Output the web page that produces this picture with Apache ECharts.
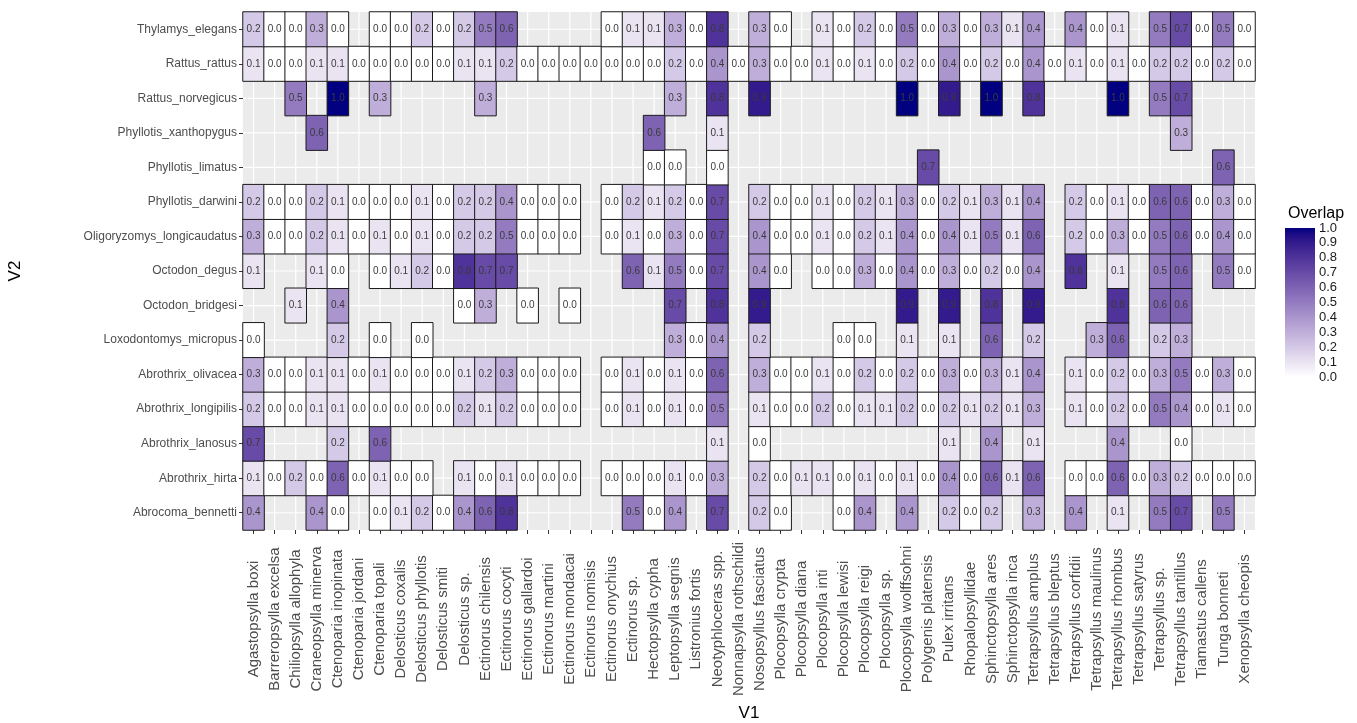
<!DOCTYPE html>
<html>
<head>
<meta charset="utf-8">
<script src="https://cdn.jsdelivr.net/npm/echarts@6/dist/echarts.min.js"></script>
<style>
  html, body { margin: 0; padding: 0; background: #ffffff; }
  #chart { width: 1357px; height: 723px; }
</style>
</head>
<body>
<div id="chart"></div>
<script>
const N = null;

// x categories (V1)
const xCats = [
  'Agastopsylla boxi', 'Barreropsylla excelsa', 'Chiliopsylla allophyla', 'Craneopsylla minerva',
  'Ctenoparia inopinata', 'Ctenoparia jordani', 'Ctenoparia topali', 'Delosticus coxalis',
  'Delosticus phyllotis', 'Delosticus smiti', 'Delosticus sp.', 'Ectinorus chilensis',
  'Ectinorus cocyti', 'Ectinorus gallardoi', 'Ectinorus martini', 'Ectinorus mondacai',
  'Ectinorus nomisis', 'Ectinorus onychius', 'Ectinorus sp.', 'Hectopsylla cypha',
  'Leptopsylla segnis', 'Listronius fortis', 'Neotyphloceras spp.', 'Nonnapsylla rothschildi',
  'Nosopsyllus fasciatus', 'Plocopsylla crypta', 'Plocopsylla diana', 'Plocopsylla inti',
  'Plocopsylla lewisi', 'Plocopsylla reigi', 'Plocopsylla sp.', 'Plocopsylla wolffsohni',
  'Polygenis platensis', 'Pulex irritans', 'Rhopalopsyllidae', 'Sphinctopsylla ares',
  'Sphinctopsylla inca', 'Tetrapsyllus amplus', 'Tetrapsyllus bleptus', 'Tetrapsyllus corfidii',
  'Tetrapsyllus maulinus', 'Tetrapsyllus rhombus', 'Tetrapsyllus satyrus', 'Tetrapsyllus sp.',
  'Tetrapsyllus tantillus', 'Tiamastus callens', 'Tunga bonneti', 'Xenopsylla cheopis'
];

// y categories (V2), bottom to top
const yCats = [
  'Abrocoma_bennetti', 'Abrothrix_hirta', 'Abrothrix_lanosus', 'Abrothrix_longipilis',
  'Abrothrix_olivacea', 'Loxodontomys_micropus', 'Octodon_bridgesi', 'Octodon_degus',
  'Oligoryzomys_longicaudatus', 'Phyllotis_darwini', 'Phyllotis_limatus', 'Phyllotis_xanthopygus',
  'Rattus_norvegicus', 'Rattus_rattus', 'Thylamys_elegans'
];

// Overlap values per host row, one entry per x category (null = no tile)
const abrocomaBennetti = [0.4,N,N,0.4,0.0,N,0.0,0.1,0.2,0.0,0.4,0.6,0.8,N,N,N, N,N,0.5,0.0,0.4,N,0.7,N,0.2,0.0,N,N,0.0,0.4,N,0.4, N,0.2,0.0,0.2,N,0.3,N,0.4,N,0.1,N,0.5,0.7,N,0.5,N];
const abrothrixHirta = [0.1,0.0,0.2,0.0,0.6,0.0,0.1,0.0,0.0,N,0.1,0.0,0.1,0.0,0.0,0.0, N,0.0,0.0,0.0,0.1,0.0,0.3,N,0.2,0.0,0.1,0.1,0.0,0.1,0.0,0.1, 0.0,0.4,0.0,0.6,0.1,0.6,N,0.0,0.0,0.6,0.0,0.3,0.2,0.0,0.0,0.0];
const abrothrixLanosus = [0.7,N,N,N,0.2,N,0.6,N,N,N,N,N,N,N,N,N, N,N,N,N,N,N,0.1,N,0.0,N,N,N,N,N,N,N, N,0.1,N,0.4,N,0.1,N,N,N,0.4,N,N,0.0,N,N,N];
const abrothrixLongipilis = [0.2,0.0,0.0,0.1,0.1,0.0,0.0,0.0,0.0,0.0,0.2,0.1,0.2,0.0,0.0,0.0, N,0.0,0.1,0.0,0.1,0.0,0.5,N,0.1,0.0,0.0,0.2,0.0,0.1,0.1,0.2, 0.0,0.2,0.1,0.2,0.1,0.3,N,0.1,0.0,0.2,0.0,0.5,0.4,0.0,0.1,0.0];
const abrothrixOlivacea = [0.3,0.0,0.0,0.1,0.1,0.0,0.1,0.0,0.0,0.0,0.1,0.2,0.3,0.0,0.0,0.0, N,0.0,0.1,0.0,0.1,0.0,0.6,N,0.3,0.0,0.0,0.1,0.0,0.2,0.0,0.2, 0.0,0.3,0.0,0.3,0.1,0.4,N,0.1,0.0,0.2,0.0,0.3,0.5,0.0,0.3,0.0];
const loxodontomysMicropus = [0.0,N,N,N,0.2,N,0.0,N,0.0,N,N,N,N,N,N,N, N,N,N,N,0.3,0.0,0.4,N,0.2,N,N,N,0.0,0.0,N,0.1, N,0.1,N,0.6,N,0.2,N,N,0.3,0.6,N,0.2,0.3,N,N,N];
const octodonBridgesi = [N,N,0.1,N,0.4,N,N,N,N,N,0.0,0.3,N,0.0,N,0.0, N,N,N,N,0.7,N,0.8,N,0.9,N,N,N,N,N,N,0.9, N,0.9,N,0.8,N,0.9,N,N,N,0.8,N,0.6,0.6,N,N,N];
const octodonDegus = [0.1,N,N,0.1,0.0,N,0.0,0.1,0.2,0.0,0.8,0.7,0.7,N,N,N, N,N,0.6,0.1,0.5,0.0,0.7,N,0.4,0.0,N,0.0,0.0,0.3,0.0,0.4, 0.0,0.3,0.0,0.2,0.0,0.4,N,0.8,N,0.1,N,0.5,0.6,N,0.5,0.0];
const oligoryzomysLongicaudatus = [0.3,0.0,0.0,0.2,0.1,0.0,0.1,0.0,0.1,0.0,0.2,0.2,0.5,0.0,0.0,0.0, N,0.0,0.1,0.0,0.3,0.0,0.7,N,0.4,0.0,0.0,0.1,0.0,0.2,0.1,0.4, 0.0,0.4,0.1,0.5,0.1,0.6,N,0.2,0.0,0.3,0.0,0.5,0.6,0.0,0.4,0.0];
const phyllotisDarwini = [0.2,0.0,0.0,0.2,0.1,0.0,0.0,0.0,0.1,0.0,0.2,0.2,0.4,0.0,0.0,0.0, N,0.0,0.2,0.1,0.2,0.0,0.7,N,0.2,0.0,0.0,0.1,0.0,0.2,0.1,0.3, 0.0,0.2,0.1,0.3,0.1,0.4,N,0.2,0.0,0.1,0.0,0.6,0.6,0.0,0.3,0.0];
const phyllotisLimatus = [N,N,N,N,N,N,N,N,N,N,N,N,N,N,N,N, N,N,N,0.0,0.0,N,0.0,N,N,N,N,N,N,N,N,N, 0.7,N,N,N,N,N,N,N,N,N,N,N,N,N,0.6,N];
const phyllotisXanthopygus = [N,N,N,0.6,N,N,N,N,N,N,N,N,N,N,N,N, N,N,N,0.6,N,N,0.1,N,N,N,N,N,N,N,N,N, N,N,N,N,N,N,N,N,N,N,N,N,0.3,N,N,N];
const rattusNorvegicus = [N,N,0.5,N,1.0,N,0.3,N,N,N,N,0.3,N,N,N,N, N,N,N,N,0.3,N,0.8,N,0.9,N,N,N,N,N,N,1.0, N,0.9,N,1.0,N,0.8,N,N,N,1.0,N,0.5,0.7,N,N,N];
const rattusRattus = [0.1,0.0,0.0,0.1,0.1,0.0,0.0,0.0,0.0,0.0,0.1,0.1,0.2,0.0,0.0,0.0, 0.0,0.0,0.0,0.0,0.2,0.0,0.4,0.0,0.3,0.0,0.0,0.1,0.0,0.1,0.0,0.2, 0.0,0.4,0.0,0.2,0.0,0.4,0.0,0.1,0.0,0.1,0.0,0.2,0.2,0.0,0.2,0.0];
const thylamysElegans = [0.2,0.0,0.0,0.3,0.0,N,0.0,0.0,0.2,0.0,0.2,0.5,0.6,N,N,N, N,0.0,0.1,0.1,0.3,0.0,0.8,N,0.3,0.0,N,0.1,0.0,0.2,0.0,0.5, 0.0,0.3,0.0,0.3,0.1,0.4,N,0.4,0.0,0.1,N,0.5,0.7,0.0,0.5,0.0];

// legend colour bar tick labels
const legendTicks = ['0.0','0.1','0.2','0.3','0.4','0.5','0.6','0.7','0.8','0.9','1.0'];

const rowsInOrder = [
  abrocomaBennetti, abrothrixHirta, abrothrixLanosus, abrothrixLongipilis, abrothrixOlivacea,
  loxodontomysMicropus, octodonBridgesi, octodonDegus, oligoryzomysLongicaudatus, phyllotisDarwini,
  phyllotisLimatus, phyllotisXanthopygus, rattusNorvegicus, rattusRattus, thylamysElegans
];

// ---- colour scale: white -> navy, interpolated in CIE Lab like ggplot ----
function lin(c) { c /= 255; return c <= 0.04045 ? c / 12.92 : Math.pow((c + 0.055) / 1.055, 2.4); }
function unlin(c) { const v = c <= 0.0031308 ? 12.92 * c : 1.055 * Math.pow(c, 1 / 2.4) - 0.055; return Math.max(0, Math.min(255, Math.round(v * 255))); }
function toLab(rgb) {
  const R = lin(rgb[0]), G = lin(rgb[1]), B = lin(rgb[2]);
  const X = (0.4124564 * R + 0.3575761 * G + 0.1804375 * B) / 0.95047;
  const Y = (0.2126729 * R + 0.7151522 * G + 0.0721750 * B);
  const Z = (0.0193339 * R + 0.1191920 * G + 0.9503041 * B) / 1.08883;
  const f = t => t > 0.008856 ? Math.cbrt(t) : 7.787 * t + 16 / 116;
  const fx = f(X), fy = f(Y), fz = f(Z);
  return [116 * fy - 16, 500 * (fx - fy), 200 * (fy - fz)];
}
function fromLab(lab) {
  const fy = (lab[0] + 16) / 116, fx = fy + lab[1] / 500, fz = fy - lab[2] / 200;
  const finv = t => t * t * t > 0.008856 ? t * t * t : (t - 16 / 116) / 7.787;
  const X = finv(fx) * 0.95047, Y = finv(fy), Z = finv(fz) * 1.08883;
  const R = 3.2404542 * X - 1.5371385 * Y - 0.4985314 * Z;
  const G = -0.9692660 * X + 1.8760108 * Y + 0.0415560 * Z;
  const B = 0.0556434 * X - 0.2040259 * Y + 1.0572252 * Z;
  return 'rgb(' + unlin(R) + ',' + unlin(G) + ',' + unlin(B) + ')';
}
const labLow = toLab([255, 255, 255]), labHigh = toLab([0, 0, 128]);
const colorStops = [];
for (let k = 0; k <= 20; k++) {
  const t = k / 20;
  colorStops.push(fromLab([0, 1, 2].map(d => labLow[d] + (labHigh[d] - labLow[d]) * t)));
}

// ---- build heatmap data from rows ----
const heatData = [];
rowsInOrder.forEach((row, j) => {
  row.forEach((v, i) => { if (v !== null) heatData.push([i, j, v]); });
});

const FONT = '"Liberation Sans", Arial, sans-serif';
const chart = echarts.init(document.getElementById('chart'), null, { renderer: 'canvas' });

chart.setOption({
  animation: false,
  backgroundColor: '#ffffff',
  title: {
    text: 'Overlap', left: 1283, top: 201,
    textStyle: { fontSize: 16, fontWeight: 'normal', color: '#000', fontFamily: FONT }
  },
  grid: [
    { left: 243, right: 102, top: 12, bottom: 193, show: true, backgroundColor: '#EBEBEB', borderWidth: 0,
      containLabel: false, outerBoundsMode: 'none' },
    { left: 1285, top: 228, width: 30, height: 149, show: false, containLabel: false, outerBoundsMode: 'none' }
  ],
  xAxis: [
    {
      type: 'category', data: xCats, gridIndex: 0,
      axisLine: { show: false },
      axisTick: { show: true, alignWithLabel: true, length: 4, lineStyle: { color: '#333333', width: 1 } },
      axisLabel: { rotate: 90, fontSize: 15, color: '#4D4D4D', fontFamily: FONT, margin: 89,
        align: 'center', verticalAlign: 'middle', interval: 0 },
      splitLine: { show: false },
      name: 'V1', nameLocation: 'middle', nameGap: 175,
      nameTextStyle: { fontSize: 17, color: '#000', fontFamily: FONT }
    },
    { type: 'value', gridIndex: 1, min: 0, max: 1, show: false }
  ],
  yAxis: [
    {
      type: 'category', data: yCats, gridIndex: 0,
      axisLine: { show: false },
      axisTick: { show: true, alignWithLabel: true, length: 4, lineStyle: { color: '#333333', width: 1 } },
      axisLabel: { fontSize: 12, color: '#4D4D4D', fontFamily: FONT, margin: 6, interval: 0 },
      splitLine: { show: false },
      name: 'V2', nameLocation: 'middle', nameGap: 219, nameRotate: 90,
      nameTextStyle: { fontSize: 17, color: '#000', fontFamily: FONT }
    },
    {
      type: 'value', gridIndex: 1, min: 0, max: 1, interval: 0.1, position: 'right',
      axisLine: { show: false },
      axisTick: { show: true, inside: true, length: 6, lineStyle: { color: '#ffffff', width: 1 } },
      axisLabel: { fontSize: 13, color: '#1a1a1a', fontFamily: FONT, margin: 4,
        formatter: v => legendTicks[Math.round(v * 10)] },
      splitLine: { show: false }
    },
    {
      type: 'value', gridIndex: 1, min: 0, max: 1, interval: 0.1, position: 'left',
      axisLine: { show: false },
      axisTick: { show: true, inside: true, length: 6, lineStyle: { color: '#ffffff', width: 1 } },
      axisLabel: { show: false },
      splitLine: { show: false }
    }
  ],
  visualMap: {
    show: false, type: 'continuous', min: 0, max: 1, dimension: 2, seriesIndex: 2,
    inRange: { color: colorStops }
  },
  series: [
    {
      // vertical panel grid lines at category centres
      type: 'custom', xAxisIndex: 0, yAxisIndex: 0, z: 1, silent: true,
      data: xCats.map((c, i) => [i, 0]),
      renderItem: function (params, api) {
        const cs = params.coordSys;
        const p = api.coord([api.value(0), api.value(1)]);
        return { type: 'line', shape: { x1: p[0], y1: cs.y, x2: p[0], y2: cs.y + cs.height },
          style: { stroke: '#ffffff', lineWidth: 1.2 } };
      }
    },
    {
      // horizontal panel grid lines at category centres
      type: 'custom', xAxisIndex: 0, yAxisIndex: 0, z: 1, silent: true,
      data: yCats.map((c, j) => [0, j]),
      renderItem: function (params, api) {
        const cs = params.coordSys;
        const p = api.coord([api.value(0), api.value(1)]);
        return { type: 'line', shape: { x1: cs.x, y1: p[1], x2: cs.x + cs.width, y2: p[1] },
          style: { stroke: '#ffffff', lineWidth: 1.2 } };
      }
    },
    {
      type: 'heatmap', xAxisIndex: 0, yAxisIndex: 0, z: 3,
      data: heatData,
      itemStyle: { borderColor: '#1a1a1a', borderWidth: 1 },
      label: {
        show: true, fontSize: 10, color: '#3a3a3a', fontFamily: FONT,
        formatter: p => p.value[2].toFixed(1)
      },
      emphasis: { disabled: true }
    },
    {
      // legend colour bar
      type: 'custom', xAxisIndex: 1, yAxisIndex: 1, z: 2, silent: true,
      data: [[0, 0]],
      renderItem: function (params, api) {
        const cs = params.coordSys;
        const stops = colorStops.map((c, k) => ({ offset: 1 - k / (colorStops.length - 1), color: c }));
        return { type: 'rect', shape: { x: cs.x, y: cs.y, width: cs.width, height: cs.height },
          style: { fill: new echarts.graphic.LinearGradient(0, 0, 0, 1, stops.reverse()) } };
      }
    }
  ]
});
</script>
</body>
</html>
